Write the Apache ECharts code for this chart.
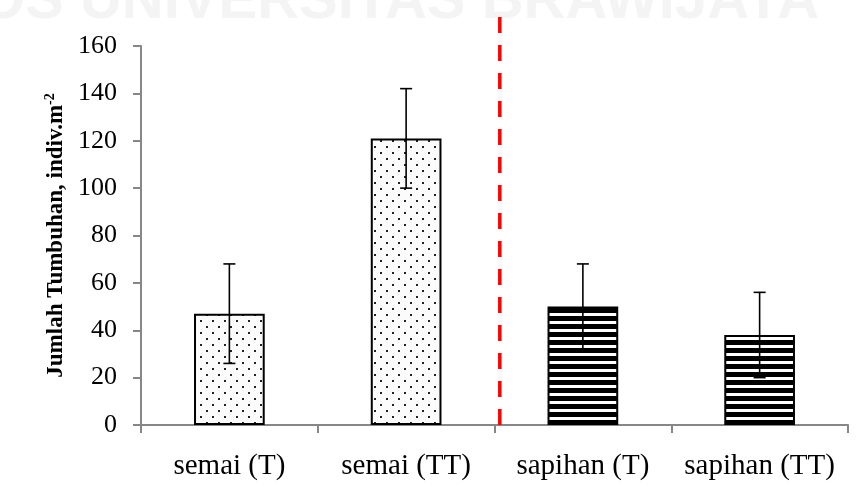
<!DOCTYPE html>
<html>
<head>
<meta charset="utf-8">
<script src="https://cdn.jsdelivr.net/npm/echarts@6/dist/echarts.min.js"></script>
<style>
  html, body { margin: 0; padding: 0; background: #ffffff; }
  #chart { width: 864px; height: 491px; }
</style>
</head>
<body>
<div id="chart"></div>
<script>
// Plant counts per growth stage and site
const categories = ['semai (T)', 'semai (TT)', 'sapihan (T)', 'sapihan (TT)'];
const means = [47, 121, 50, 38];
const errors = [21, 21, 18, 18];
const yTicks = [0, 20, 40, 60, 80, 100, 120, 140, 160];
// Divider between the seedling (semai) and sapling (sapihan) groups
const dividerAt = [2.03];

const serif = '"Liberation Serif", "Times New Roman", serif';

// Fill patterns: fine dots for semai, horizontal stripes for sapihan
function dotPattern() {
  const c = document.createElement('canvas');
  c.width = 12; c.height = 12;
  const g = c.getContext('2d');
  g.fillStyle = '#fbfbfb';
  g.fillRect(0, 0, 12, 12);
  g.fillStyle = '#222';
  g.fillRect(2, 2, 2, 2);
  g.fillRect(8, 8, 2, 2);
  return c;
}
function stripePattern() {
  const c = document.createElement('canvas');
  c.width = 8; c.height = 8;
  const g = c.getContext('2d');
  g.fillStyle = '#000';
  g.fillRect(0, 0, 8, 8);
  g.fillStyle = '#fff';
  g.fillRect(0, 1, 8, 3);
  return c;
}
const dots = { image: dotPattern(), repeat: 'repeat' };
const stripes = { image: stripePattern(), repeat: 'repeat' };

const barData = means.map((v, i) => ({
  value: v,
  itemStyle: { color: i < 2 ? dots : stripes }
}));
const errData = means.map((v, i) => [i, v - errors[i], v + errors[i]]);

const chart = echarts.init(document.getElementById('chart'), null, { renderer: 'canvas' });

chart.setOption({
  animation: false,
  backgroundColor: '#ffffff',
  graphic: [{
    type: 'text',
    left: -20, top: -27,
    silent: true,
    z: -10,
    style: {
      text: 'OS UNIVERSITAS BRAWIJAYA',
      font: 'bold 58px "Liberation Sans", sans-serif',
      fill: '#f4f4f4'
    }
  }],
  grid: [
    { left: 141, right: 16, top: 46, bottom: 66 },
    { left: 141, right: 16, top: 14, bottom: 66 }
  ],
  xAxis: [{
    type: 'category',
    gridIndex: 0,
    data: categories,
    axisLine: { lineStyle: { color: '#878787', width: 2 } },
    axisTick: { show: true, interval: 0, length: 8, lineStyle: { color: '#878787', width: 2 } },
    axisLabel: { interval: 0, hideOverlap: false, color: '#000', fontFamily: serif, fontSize: 29, margin: 27 }
  }, {
    type: 'value',
    gridIndex: 1,
    min: 0, max: 4,
    show: false
  }],
  yAxis: [{
    type: 'value',
    gridIndex: 0,
    min: 0, max: 160, interval: 20,
    name: 'Jumlah Tumbuhan, indiv.m{sup|-2}',
    nameLocation: 'middle',
    nameRotate: 90,
    nameGap: 72,
    nameTextStyle: {
      color: '#000', fontFamily: serif, fontSize: 23, fontWeight: 'bold',
      rich: {
        sup: { fontFamily: serif, fontSize: 14, fontWeight: 'bold', padding: [0, 0, 11, 0] }
      }
    },
    splitLine: { show: false },
    axisLine: { show: true, lineStyle: { color: '#878787', width: 2 } },
    axisTick: { show: true, length: 8, lineStyle: { color: '#878787', width: 2 } },
    axisLabel: {
      color: '#000', fontFamily: serif, fontSize: 26, margin: 24,
      formatter: v => yTicks.includes(v) ? String(v) : ''
    }
  }, {
    type: 'value',
    gridIndex: 1,
    min: 0, max: 1,
    show: false
  }],
  series: [{
    type: 'bar',
    xAxisIndex: 0, yAxisIndex: 0,
    barWidth: '40%',
    data: barData,
    itemStyle: { borderColor: '#000', borderWidth: 2 },
    z: 2
  }, {
    type: 'custom',
    xAxisIndex: 0, yAxisIndex: 0,
    data: errData,
    z: 5,
    renderItem: function (params, api) {
      const x = api.value(0);
      const lo = api.coord([x, api.value(1)]);
      const hi = api.coord([x, api.value(2)]);
      const cap = 6;
      const style = { stroke: '#000', lineWidth: 1.6 };
      return {
        type: 'group',
        children: [
          { type: 'line', shape: { x1: hi[0], y1: hi[1], x2: lo[0], y2: lo[1] }, style },
          { type: 'line', shape: { x1: hi[0] - cap, y1: hi[1], x2: hi[0] + cap, y2: hi[1] }, style },
          { type: 'line', shape: { x1: lo[0] - cap, y1: lo[1], x2: lo[0] + cap, y2: lo[1] }, style }
        ]
      };
    }
  }, {
    type: 'line',
    xAxisIndex: 1, yAxisIndex: 1,
    data: [[dividerAt[0], 0], [dividerAt[0], 1]],
    symbol: 'none',
    lineStyle: { color: '#ff0000', width: 3.5, type: [16, 12] },
    z: 1
  }]
});
</script>
</body>
</html>
